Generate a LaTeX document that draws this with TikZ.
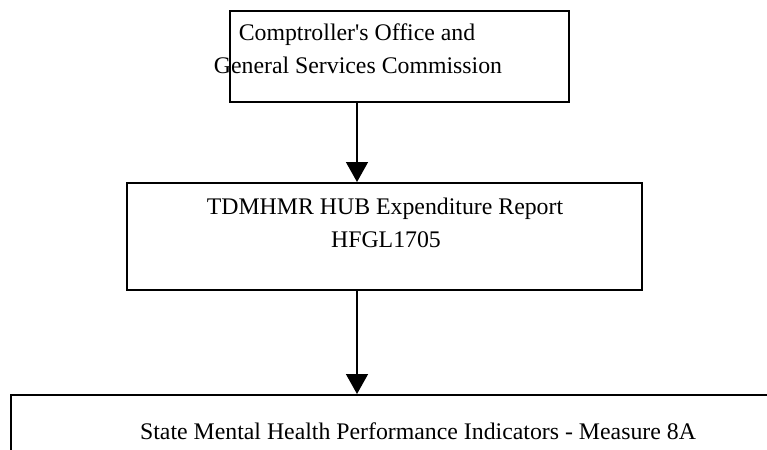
\documentclass[tikz,border=0pt]{standalone}
\usepackage{fontspec}
\setmainfont{Liberation Serif}[Ligatures=NoCommon]
\usetikzlibrary{arrows.meta}
\tikzset{
  box/.style={draw=black, line width=2pt, inner sep=0pt},
  label/.style={anchor=base, inner sep=0pt, font=\fontsize{23.8}{33}\selectfont},
  arr/.style={draw=black, line width=1.5pt, -{Triangle[length=20pt,width=22pt]}}
}
\begin{document}
\begin{tikzpicture}[x=1pt,y=-1pt]
\useasboundingbox (0,0) rectangle (767,449);
\clip (0,0) rectangle (767,449);
\node[box, minimum width=339pt, minimum height=91pt] (top) at (399.5,56.5) {};
\node[box, minimum width=515pt, minimum height=107pt] (mid) at (384.5,236.5) {};
\node[box, minimum width=780pt, minimum height=80pt] (bot) at (401,435) {};
\node[label] (t1) at (357,41) {Comptroller\textquotesingle s Office and};
\node[label] (t2) at (358,74) {General Services Commission};
\node[label] (m1) at (385,214) {TDMHMR HUB Expenditure Report};
\node[label] (m2) at (386,247) {HFGL1705};
\node[label] (b1) at (418,439) {State Mental Health Performance Indicators - Measure 8A};
\coordinate (ax) at (357,0);
\draw[arr] (ax |- top.south) -- (ax |- mid.north);
\draw[arr] (ax |- mid.south) -- (ax |- bot.north);
\end{tikzpicture}
\end{document}
